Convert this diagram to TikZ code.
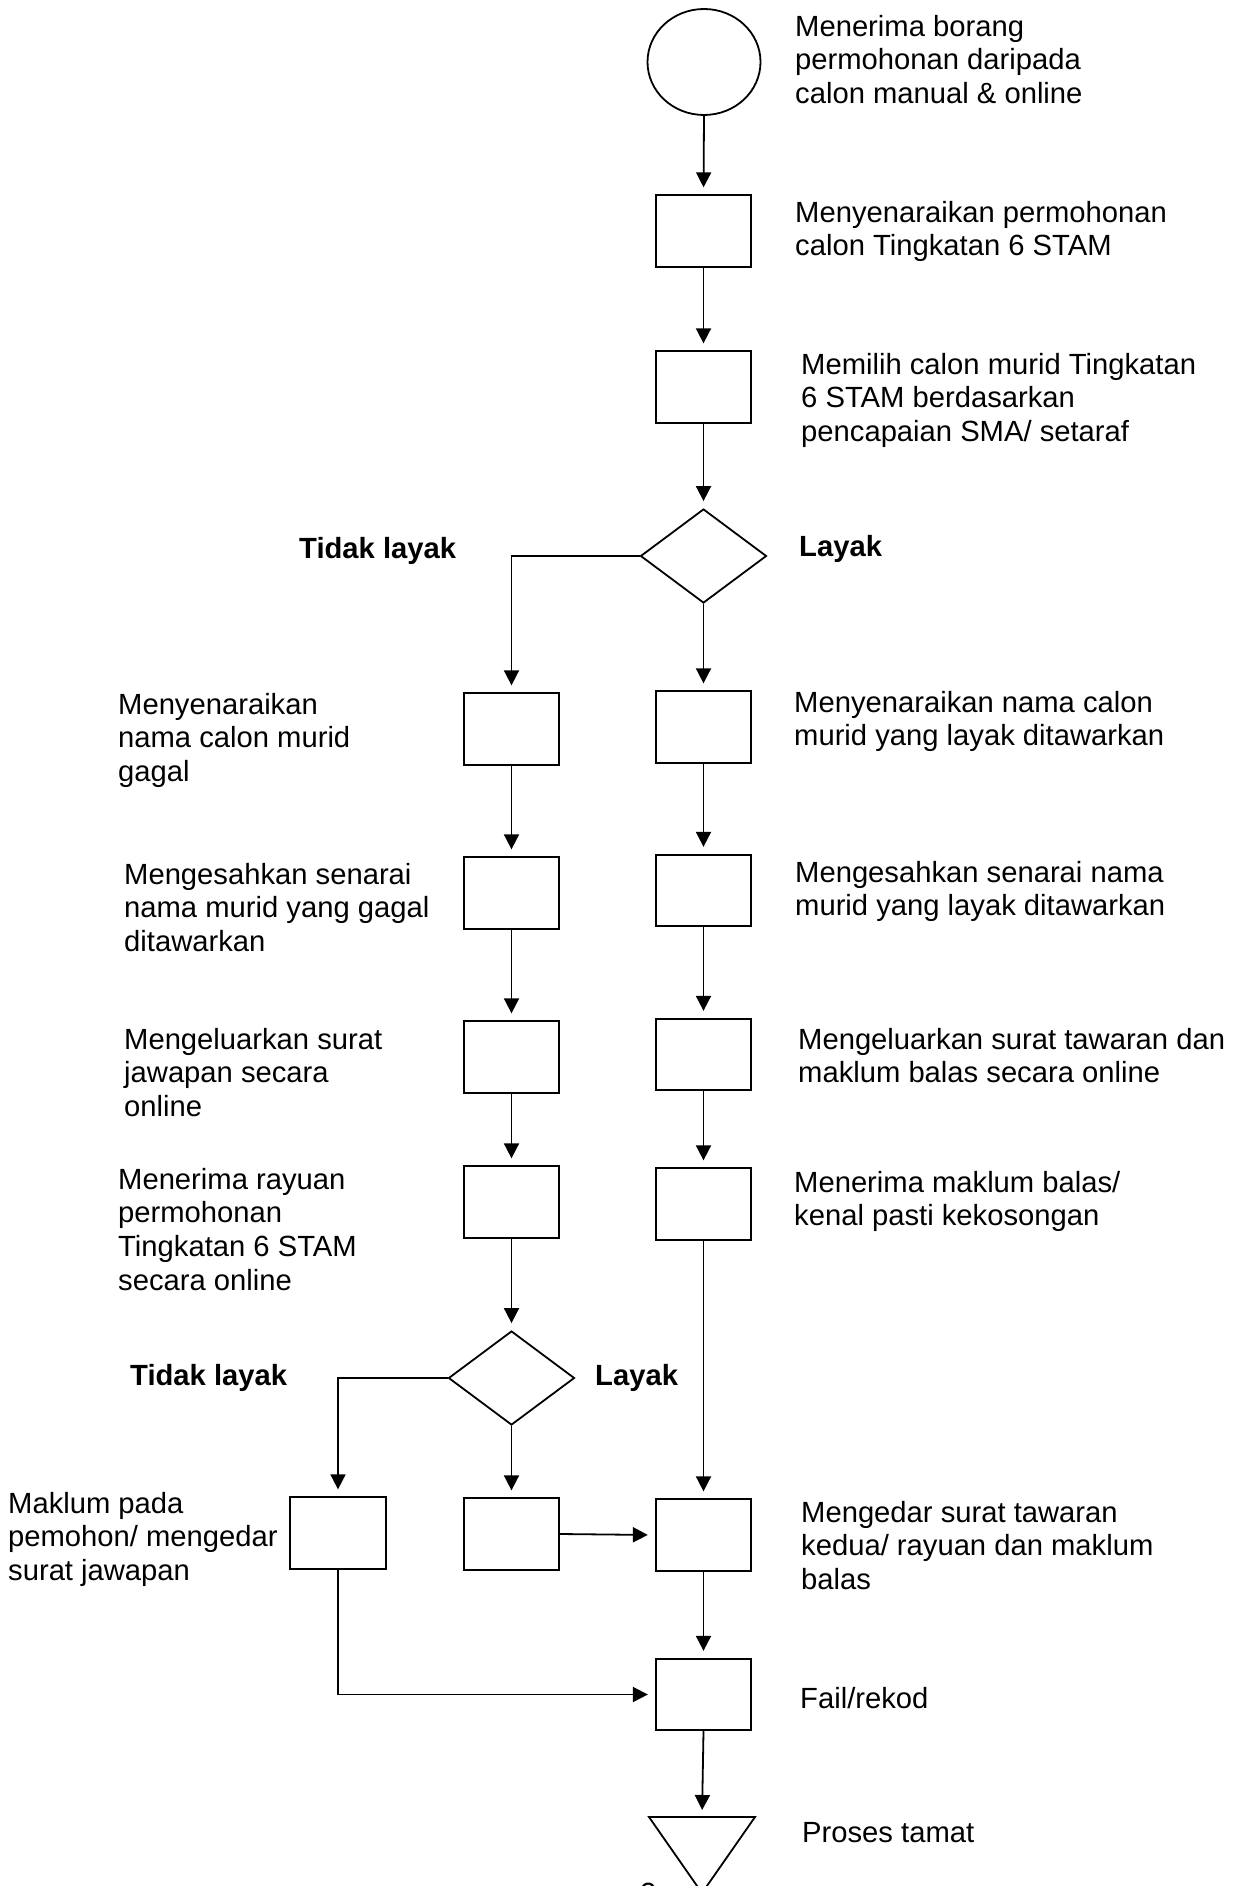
\documentclass[tikz,border=0pt]{standalone}
\usepackage{fontspec}
\setmainfont{Liberation Sans}
\usetikzlibrary{arrows.meta,shapes.geometric}
\newcommand{\fstrut}{\rule{0pt}{24pt}}
\begin{document}
\begin{tikzpicture}[x=1pt,y=-1pt,
  lw/.style={line width=1.8pt},
  stepbox/.style={draw, lw, rectangle, minimum width=95.5pt, minimum height=71.5pt, inner sep=0pt},
  decbox/.style={draw, lw, diamond, minimum width=126pt, minimum height=94pt, inner sep=0pt},
  startbox/.style={draw, lw, ellipse, minimum width=113pt, minimum height=106pt, inner sep=0pt},
  arr/.style={lw, -{Triangle[length=15pt,width=15pt]}, shorten >=7pt},
  txt/.style={anchor=north west, inner sep=0pt, align=left, font=\fontsize{29.2pt}{33.7pt}\selectfont},
  btxt/.style={txt, font=\fontsize{29.2pt}{33.7pt}\selectfont\bfseries}
]
\useasboundingbox (0,0) rectangle (1234,1886);
\fill[white] (0,0) rectangle (1234,1886);

% right column
\node[startbox] (c) at (704,62) {};
\node[stepbox] (b1) at (703.5,231) {};
\node[stepbox] (b2) at (703.5,387) {};
\node[decbox] (d1) at (703.5,556) {};
\node[stepbox] (r1) at (703.5,727) {};
\node[stepbox] (r2) at (703.5,890.5) {};
\node[stepbox] (r3) at (703.5,1054.5) {};
\node[stepbox] (r4) at (703.5,1204) {};
\node[stepbox] (med) at (703.5,1535) {};
\node[stepbox] (fail) at (703.5,1694.5) {};
\coordinate (tritop) at (702,1817);
\draw[lw, line join=miter] (649,1817) -- (755,1817) -- (702,1893) -- cycle;

% left column
\node[stepbox] (l1) at (511.5,729) {};
\node[stepbox] (l2) at (511.5,893) {};
\node[stepbox] (l3) at (511.5,1057) {};
\node[stepbox] (l4) at (511.5,1202) {};
\node[decbox] (d2) at (511.5,1378) {};
\node[stepbox] (mid) at (511.5,1534) {};

% far left
\node[stepbox] (mk) at (338,1533) {};

% connectors
\draw[arr] (c.south) -- (b1.north);
\draw[arr] (b1.south) -- (b2.north);
\draw[arr] (b2.south) -- (d1.north);
\draw[arr] (d1.west) -| (l1.north);
\draw[arr] (d1.south) -- (r1.north);
\draw[arr] (r1.south) -- (r2.north);
\draw[arr] (r2.south) -- (r3.north);
\draw[arr] (r3.south) -- (r4.north);
\draw[arr] (r4.south) -- (med.north);
\draw[arr] (med.south) -- (fail.north);
\draw[arr] (fail.south) -- (tritop);
\draw[arr] (l1.south) -- (l2.north);
\draw[arr] (l2.south) -- (l3.north);
\draw[arr] (l3.south) -- (l4.north);
\draw[arr] (l4.south) -- (d2.north);
\draw[arr] (d2.west) -| (mk.north);
\draw[arr] (d2.south) -- (mid.north);
\draw[arr] (mid.east) -- (med.west);
\draw[arr] (mk.south) |- (fail.west);

% texts (positions: first baseline minus 24pt)
\node[txt] (t1) at (795,12) {\fstrut Menerima borang\\permohonan daripada\\calon manual \& online};
\node[txt] (t2) at (795,198) {\fstrut Menyenaraikan permohonan\\calon Tingkatan 6 STAM};
\node[txt] (t3) at (801,350) {\fstrut Memilih calon murid Tingkatan\\6 STAM berdasarkan\\pencapaian SMA/ setaraf};
\node[btxt] (t4) at (299,534) {\fstrut Tidak layak};
\node[btxt] (t5) at (799,532) {\fstrut Layak};
\node[txt] (t6) at (118,690) {\fstrut Menyenaraikan\\nama calon murid\\gagal};
\node[txt] (t7) at (794,688) {\fstrut Menyenaraikan nama calon\\murid yang layak ditawarkan};
\node[txt] (t8) at (124,860) {\fstrut Mengesahkan senarai\\nama murid yang gagal\\ditawarkan};
\node[txt] (t9) at (795,858) {\fstrut Mengesahkan senarai nama\\murid yang layak ditawarkan};
\node[txt] (t10) at (124,1025) {\fstrut Mengeluarkan surat\\jawapan secara\\online};
\node[txt] (t11) at (798,1025) {\fstrut Mengeluarkan surat tawaran dan\\maklum balas secara online};
\node[txt] (t12) at (118,1165) {\fstrut Menerima rayuan\\permohonan\\Tingkatan 6 STAM\\secara online};
\node[txt] (t13) at (794,1168) {\fstrut Menerima maklum balas/\\kenal pasti kekosongan};
\node[btxt] (t14) at (130,1361) {\fstrut Tidak layak};
\node[btxt] (t15) at (595,1361) {\fstrut Layak};
\node[txt] (t16) at (8,1489) {\fstrut Maklum pada\\pemohon/ mengedar\\surat jawapan};
\node[txt] (t17) at (801,1498) {\fstrut Mengedar surat tawaran\\kedua/ rayuan dan maklum\\balas};
\node[txt] (t18) at (800,1684) {\fstrut Fail/rekod};
\node[txt] (t19) at (802,1818) {\fstrut Proses tamat};
\node[txt] (t20) at (640,1879) {\fstrut 2};
\end{tikzpicture}
\end{document}
